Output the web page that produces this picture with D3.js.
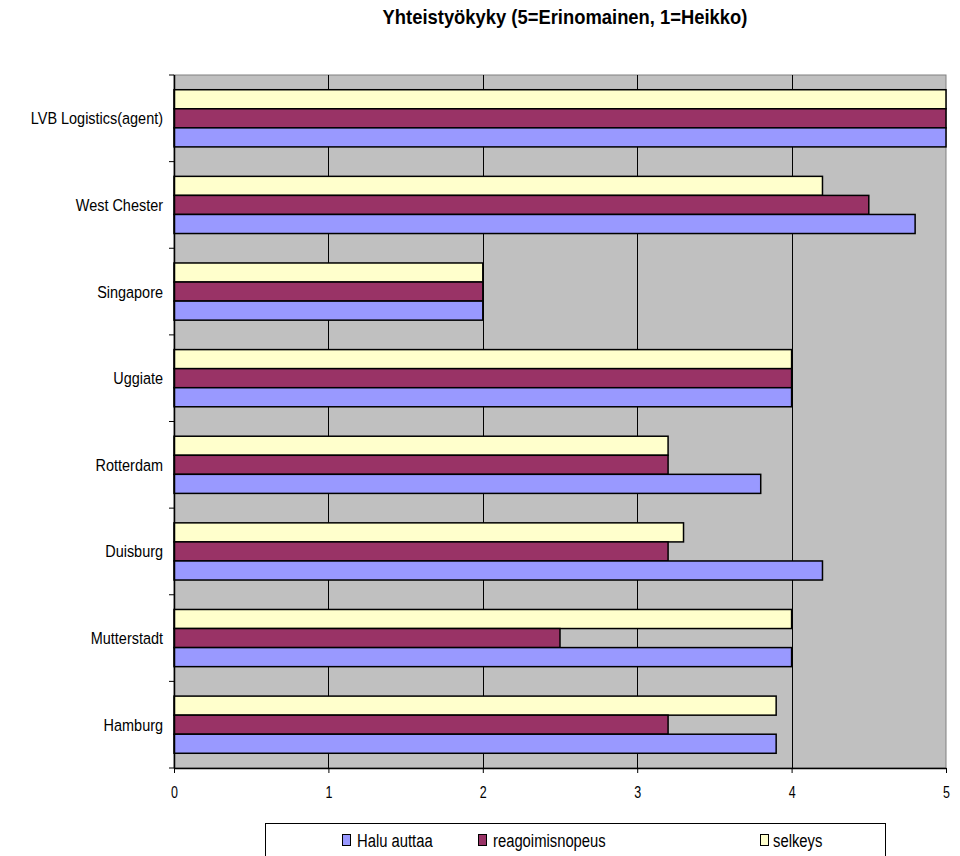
<!DOCTYPE html>
<html>
<head>
<meta charset="utf-8">
<script src="https://d3js.org/d3.v7.min.js"></script>
<style>
  html, body { margin: 0; padding: 0; background: #fff; }
  svg { display: block; font-family: "Liberation Sans", Arial, sans-serif; }
</style>
</head>
<body>
<svg id="chart" width="960" height="856"></svg>
<script>
// Categories listed top to bottom
const categories = ["LVB Logistics(agent)", "West Chester", "Singapore", "Uggiate", "Rotterdam", "Duisburg", "Mutterstadt", "Hamburg"];
const seriesNames = ["selkeys", "reagoimisnopeus", "Halu auttaa"];
const seriesColors = ["#FFFFCC", "#993366", "#9999FF"];
const haluAuttaa      = [5, 4.8, 2, 4, 3.8, 4.2, 4, 3.9];
const reagoimisnopeus = [5, 4.5, 2, 4, 3.2, 3.2, 2.5, 3.2];
const selkeys         = [5, 4.2, 2, 4, 3.2, 3.3, 4, 3.9];
const xTicks = [0, 1, 2, 3, 4, 5];
const legendOrder = ["Halu auttaa", "reagoimisnopeus", "selkeys"];

const seriesValues = { "selkeys": selkeys, "reagoimisnopeus": reagoimisnopeus, "Halu auttaa": haluAuttaa };
const colorOf = d3.scaleOrdinal().domain(seriesNames).range(seriesColors);

const svg = d3.select("#chart");
const plot = { left: 174, right: 946, top: 75, bottom: 768 };
const narrow = 0.85; // horizontal squeeze for a condensed look

const x = d3.scaleLinear().domain([0, 5]).range([plot.left, plot.right]);
const y = d3.scaleBand().domain(categories).range([plot.top, plot.bottom]).paddingInner(0.34).paddingOuter(0.17);
const ySub = d3.scaleBand().domain(seriesNames).range([0, y.bandwidth()]);

// Title
svg.append("text")
  .attr("transform", "translate(565,24) scale(0.92,1)")
  .attr("text-anchor", "middle")
  .style("font-size", "20px").style("font-weight", "bold")
  .text("Yhteistyökyky (5=Erinomainen, 1=Heikko)");

// Plot background
svg.append("rect")
  .attr("x", plot.left).attr("y", plot.top)
  .attr("width", plot.right - plot.left).attr("height", plot.bottom - plot.top)
  .attr("fill", "#C0C0C0").attr("stroke", "#808080").attr("stroke-width", 1);

// Vertical gridlines
svg.append("g").selectAll("line")
  .data(xTicks.filter(t => t > 0 && t < 5))
  .join("line")
  .attr("x1", d => Math.round(x(d)) + 0.5).attr("x2", d => Math.round(x(d)) + 0.5)
  .attr("y1", plot.top).attr("y2", plot.bottom)
  .attr("stroke", "#000").attr("stroke-width", 1);

// Bars
const rows = [];
categories.forEach((c, i) => {
  seriesNames.forEach(s => rows.push({ category: c, series: s, value: seriesValues[s][i] }));
});
svg.append("g").selectAll("rect")
  .data(rows)
  .join("rect")
  .attr("x", x(0))
  .attr("y", d => y(d.category) + ySub(d.series))
  .attr("width", d => x(d.value) - x(0))
  .attr("height", ySub.bandwidth())
  .attr("fill", d => colorOf(d.series))
  .attr("stroke", "#000").attr("stroke-width", 1.5);

// Category axis (ticks at band boundaries)
const boundaries = d3.range(categories.length + 1).map(i => plot.top + i * (plot.bottom - plot.top) / categories.length);
const yAxisG = svg.append("g");
yAxisG.append("line")
  .attr("x1", plot.left + 0.5).attr("x2", plot.left + 0.5)
  .attr("y1", plot.top).attr("y2", plot.bottom)
  .attr("stroke", "#000").attr("stroke-width", 1.5);
yAxisG.selectAll("line.tick")
  .data(boundaries)
  .join("line").attr("class", "tick")
  .attr("x1", plot.left - 5).attr("x2", plot.left)
  .attr("y1", d => d).attr("y2", d => d)
  .attr("stroke", "#000");
yAxisG.selectAll("text")
  .data(categories)
  .join("text")
  .attr("transform", d => `translate(${plot.left - 11},${y(d) + y.bandwidth() / 2}) scale(${narrow},1)`)
  .attr("dy", "0.35em")
  .attr("text-anchor", "end")
  .style("font-size", "17px")
  .text(d => d);

// Value axis
const xAxis = d3.axisBottom(x).tickValues(xTicks).tickFormat(d3.format("d"))
  .tickSize(5).tickSizeOuter(0).tickPadding(14);
const xAxisG = svg.append("g")
  .attr("transform", `translate(0,${plot.bottom})`)
  .call(xAxis);
xAxisG.select(".domain").attr("stroke", "#000").attr("stroke-width", 1.5);
xAxisG.selectAll(".tick line").attr("stroke", "#000");
xAxisG.selectAll(".tick text")
  .attr("transform", "scale(0.78,1)")
  .style("font-size", "16px")
  .style("font-family", "'Liberation Sans', Arial, sans-serif")
  .attr("fill", "#000");

// Legend
const legend = svg.append("g");
legend.append("rect")
  .attr("x", 265.5).attr("y", 823.5).attr("width", 620).attr("height", 40)
  .attr("fill", "#fff").attr("stroke", "#000").attr("stroke-width", 1);
const legendX = { "Halu auttaa": 342, "reagoimisnopeus": 478, "selkeys": 760 };
const items = legend.selectAll("g.item")
  .data(legendOrder)
  .join("g").attr("class", "item")
  .attr("transform", d => `translate(${legendX[d]},840)`);
items.append("rect")
  .attr("x", 0.5).attr("y", -5.5).attr("width", 8).attr("height", 11)
  .attr("fill", d => colorOf(d)).attr("stroke", "#000").attr("stroke-width", 1);
items.append("text")
  .attr("transform", d => `translate(${d === "selkeys" ? 13 : 15},0) scale(0.78,1)`)
  .attr("dy", "0.35em")
  .style("font-size", "19px")
  .text(d => d);
</script>
</body>
</html>
